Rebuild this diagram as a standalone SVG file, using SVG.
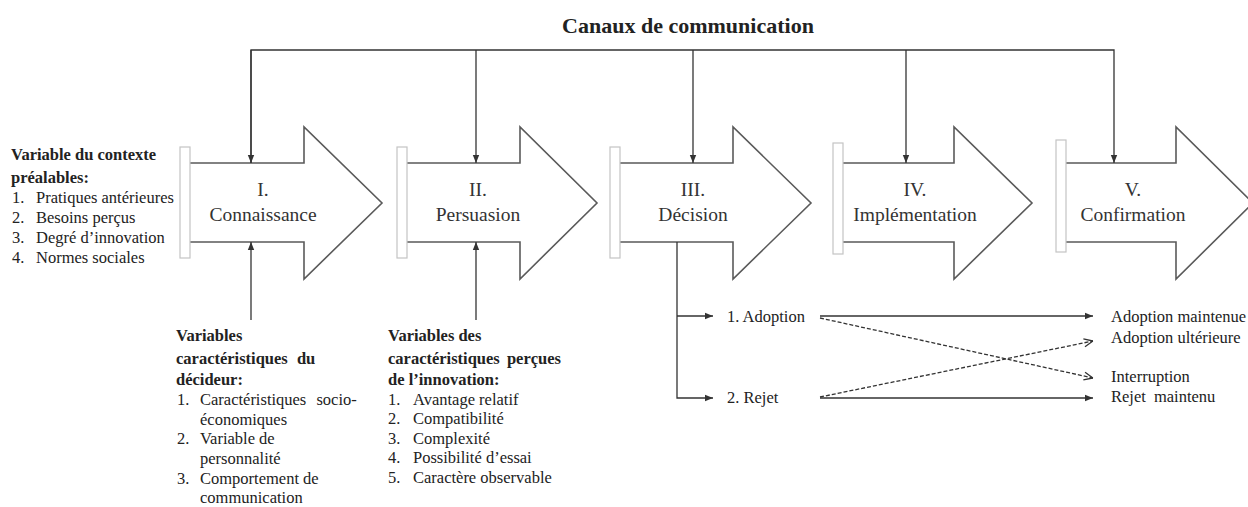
<svg xmlns="http://www.w3.org/2000/svg" width="1248" height="507" viewBox="0 0 1248 507">
<style>
text{font-family:"Liberation Serif","Times New Roman",serif;fill:#222;}
.t{font-size:16.5px;}
.b{font-size:16.5px;font-weight:bold;}
.lab{font-size:19.5px;text-anchor:middle;fill:#333;}
.title{font-size:22px;font-weight:bold;text-anchor:middle;}
.arrow{fill:#fff;stroke:#5a5a5a;stroke-width:1.6;stroke-linejoin:miter;}
.bar{fill:#fff;stroke:#c4c4c4;stroke-width:1.2;}
.ln{fill:none;stroke:#333;stroke-width:1.3;}
.dash{fill:none;stroke:#333;stroke-width:1.3;stroke-dasharray:4 2;}
</style>
<defs>
<marker id="tri" viewBox="0 0 10 10" refX="10" refY="5" markerWidth="8" markerHeight="8" markerUnits="userSpaceOnUse" orient="auto">
<path d="M0,1 L10,5 L0,9 z" fill="#333"/>
</marker>
<marker id="open" viewBox="0 0 10 10" refX="10" refY="5" markerWidth="10" markerHeight="10" markerUnits="userSpaceOnUse" orient="auto">
<path d="M1,1 L10,5 L1,9" fill="none" stroke="#333" stroke-width="1.3"/>
</marker>
</defs>

<text class="title" x="688" y="33">Canaux de communication</text>

<g id="stage1">
<path class="arrow" d="M190,163 L304,163 L304,127 L382,203 L304,279 L304,242 L190,242"/>
<rect class="bar" x="180" y="147" width="10" height="111"/>
<text class="lab" x="263" y="196">I.</text>
<text class="lab" x="263" y="221">Connaissance</text>
</g>
<g id="stage2">
<path class="arrow" d="M407,163 L520,163 L520,127 L597,203 L520,279 L520,242 L407,242"/>
<rect class="bar" x="397" y="147" width="10" height="111"/>
<text class="lab" x="478" y="196">II.</text>
<text class="lab" x="478" y="221">Persuasion</text>
</g>
<g id="stage3">
<path class="arrow" d="M620,163 L733,163 L733,127 L811,203 L733,279 L733,242 L620,242"/>
<rect class="bar" x="610" y="147" width="10" height="111"/>
<text class="lab" x="693" y="196">III.</text>
<text class="lab" x="693" y="221">Décision</text>
</g>
<g id="stage4">
<path class="arrow" d="M843,163 L954,163 L954,127 L1032,203 L954,279 L954,242 L843,242"/>
<rect class="bar" x="833" y="143" width="10" height="111"/>
<text class="lab" x="915" y="196">IV.</text>
<text class="lab" x="915" y="221">Implémentation</text>
</g>
<g id="stage5">
<path class="arrow" d="M1066,163 L1176,163 L1176,127 L1253,203 L1176,279 L1176,242 L1066,242"/>
<rect class="bar" x="1056" y="140" width="10" height="112"/>
<text class="lab" x="1133" y="196">V.</text>
<text class="lab" x="1133" y="221">Confirmation</text>
</g>

<g id="connectors">
<path class="ln" d="M251,163 L251,50 L1114,50 L1114,163" marker-end="url(#tri)"/>
<path class="ln" d="M251,50 L251,163" marker-end="url(#tri)"/>
<path class="ln" d="M476,50 L476,163" marker-end="url(#tri)"/>
<path class="ln" d="M693,50 L693,163" marker-end="url(#tri)"/>
<path class="ln" d="M906,50 L906,163" marker-end="url(#tri)"/>
<path class="ln" d="M251,320 L251,242" marker-end="url(#tri)"/>
<path class="ln" d="M476,320 L476,242" marker-end="url(#tri)"/>
<path class="ln" d="M677,242 L677,398 L713,398" marker-end="url(#tri)"/>
<path class="ln" d="M677,316 L713,316" marker-end="url(#tri)"/>
<path class="ln" d="M820,316 L1093,316" marker-end="url(#tri)"/>
<path class="ln" d="M820,398 L1093,398" marker-end="url(#tri)"/>
<path class="dash" d="M820,318 L1093,378" marker-end="url(#open)"/>
<path class="dash" d="M820,397 L1093,341" marker-end="url(#open)"/>
</g>

<g id="context">
<text class="b" x="11" y="160">Variable du contexte</text>
<text class="b" x="11" y="183">préalables:</text>
<text class="t" x="12" y="203">1.</text><text class="t" x="36" y="203">Pratiques antérieures</text>
<text class="t" x="12" y="223">2.</text><text class="t" x="36" y="223">Besoins perçus</text>
<text class="t" x="12" y="243">3.</text><text class="t" x="36" y="243">Degré d’innovation</text>
<text class="t" x="12" y="263">4.</text><text class="t" x="36" y="263">Normes sociales</text>
</g>

<g id="decideur">
<text class="b" x="176" y="341">Variables</text>
<text class="b" x="176" y="364" word-spacing="5">caractéristiques du</text>
<text class="b" x="176" y="385">décideur:</text>
<text class="t" x="177" y="405">1.</text><text class="t" x="200" y="405" word-spacing="6">Caractéristiques socio-</text>
<text class="t" x="200" y="425">économiques</text>
<text class="t" x="177" y="444">2.</text><text class="t" x="200" y="444">Variable de</text>
<text class="t" x="200" y="464">personnalité</text>
<text class="t" x="177" y="484">3.</text><text class="t" x="200" y="484">Comportement de</text>
<text class="t" x="200" y="503">communication</text>
</g>

<g id="innovation">
<text class="b" x="388" y="341">Variables des</text>
<text class="b" x="388" y="364" word-spacing="3">caractéristiques perçues</text>
<text class="b" x="388" y="385">de l’innovation:</text>
<text class="t" x="388" y="405">1.</text><text class="t" x="413" y="405">Avantage relatif</text>
<text class="t" x="388" y="424">2.</text><text class="t" x="413" y="424">Compatibilité</text>
<text class="t" x="388" y="444">3.</text><text class="t" x="413" y="444">Complexité</text>
<text class="t" x="388" y="463">4.</text><text class="t" x="413" y="463">Possibilité d’essai</text>
<text class="t" x="388" y="483">5.</text><text class="t" x="413" y="483">Caractère observable</text>
</g>

<g id="decision-outcomes">
<text class="t" x="727" y="322">1. Adoption</text>
<text class="t" x="727" y="403">2. Rejet</text>
<text class="t" x="1111" y="322">Adoption maintenue</text>
<text class="t" x="1111" y="343">Adoption ultérieure</text>
<text class="t" x="1111" y="382">Interruption</text>
<text class="t" x="1111" y="402" word-spacing="4">Rejet maintenu</text>
</g>
</svg>
